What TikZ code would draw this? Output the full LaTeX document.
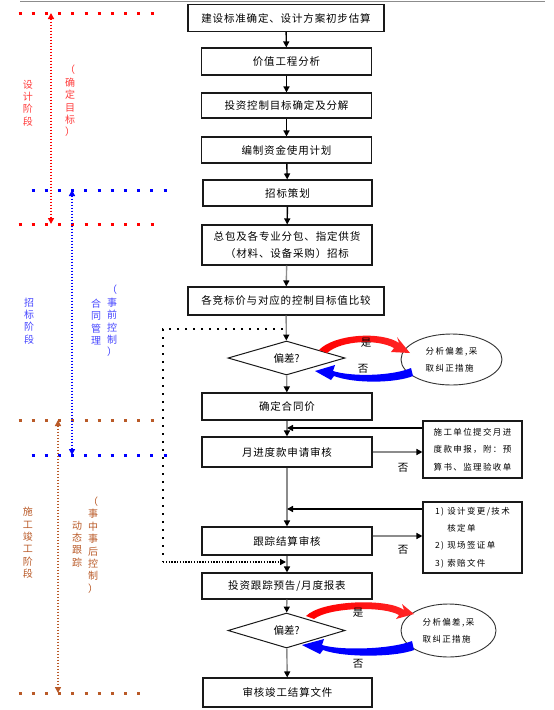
\documentclass[tikz,border=0pt]{standalone}
\usepackage{fontspec}
\usepackage{xcolor}
\setmainfont{Noto Sans CJK SC}
\newfontfamily\boxfont[LetterSpace=8]{Noto Sans CJK SC}
\newfontfamily\notefont[LetterSpace=16]{Noto Sans CJK SC}
\usetikzlibrary{arrows.meta,shapes.geometric}

\definecolor{designred}{RGB}{255,60,60}
\definecolor{tenderblue}{RGB}{70,70,255}
\definecolor{buildbrown}{RGB}{185,90,40}

\tikzset{
  stagebox/.style={draw=black!90, line width=1.1pt, minimum width=170pt, minimum height=27pt,
    inner sep=0pt, align=center, font=\boxfont\fontsize{10.5}{17}\selectfont},
  judge/.style={draw=black!90, line width=1pt, shape=diamond, aspect=3.4, minimum width=117pt,
    minimum height=34pt, inner sep=0pt, font=\fontsize{10.5}{13}\selectfont},
  notebox/.style={draw=black!90, line width=1.1pt, minimum width=99pt, inner sep=0pt, align=left,
    font=\notefont\fontsize{8.5}{17.3}\selectfont},
  remedy/.style={draw=black!80, line width=0.9pt, shape=ellipse, minimum width=101pt, minimum height=51pt,
    inner sep=0pt, align=left, font=\notefont\fontsize{8.5}{17}\selectfont},
  flow/.style={black, line width=1.4pt, -{Triangle[length=6pt,width=6pt]}},
  flowgray/.style={black!45, line width=1.4pt, -{Triangle[length=6pt,width=6pt,color=black]}},
  stagedots/.style={line width=3pt, dash pattern=on 3pt off 10.2pt},
  spanline/.style={line width=1.5pt, dash pattern=on 1.5pt off 1.5pt,
    {Triangle[length=6pt,width=6pt]}-{Triangle[length=6pt,width=6pt]}},
  sidetext/.style={align=center, inner sep=0pt, font=\fontsize{10}{12.4}\selectfont},
  answer/.style={inner sep=0pt, font=\fontsize{10.5}{13}\selectfont}
}

\begin{document}
\begin{tikzpicture}[x=1pt,y=-1pt]
  \useasboundingbox (0,0) rectangle (554,710);
  \draw[black!45, line width=0.8pt] (20,1) -- (545,1);

  % main column
  \node[stagebox, minimum width=196pt] (build) at (286,18) {建设标准确定、设计方案初步估算};
  \node[stagebox] (value) at (286.5,61.5) {价值工程分析};
  \node[stagebox, minimum height=25pt] (split) at (286.5,105.5) {投资控制目标确定及分解};
  \node[stagebox, minimum height=26pt] (fund) at (286.5,150) {编制资金使用计划};
  \node[stagebox, minimum width=169pt, minimum height=26pt] (plan) at (287.5,193) {招标策划};
  \node[stagebox, minimum height=40pt] (bid) at (287,245) {总包及各专业分包、指定供货\\（材料、设备采购）招标};
  \node[stagebox, minimum width=196pt, minimum height=28pt] (compare) at (286,301) {各竞标价与对应的控制目标值比较};
  \node[judge] (dev1) at (286.5,358) {偏差?};
  \node[stagebox] (price) at (287,406.5) {确定合同价};
  \node[stagebox, minimum height=30pt] (month) at (287,452) {月进度款申请审核};
  \node[stagebox, minimum height=28pt] (track) at (287,541) {跟踪结算审核};
  \node[stagebox, minimum height=26pt] (report) at (287,586) {投资跟踪预告/月度报表};
  \node[judge, minimum height=35pt] (dev2) at (286.5,630.5) {偏差?};
  \node[stagebox, minimum width=169pt, minimum height=29pt] (final) at (287.5,692.5) {审核竣工结算文件};

  % side notes
  \node[notebox, minimum height=57pt] (apply) at (472.5,449.5) {施工单位提交月进\\度款申报，附：预\\算书、监理验收单};
  \node[notebox, minimum height=71pt] (docs) at (472.5,537.5) {1) 设计变更/技术\\\phantom{1) }核定单\\2) 现场签证单\\3) 索赔文件};
  \node[remedy] (fix1) at (451.5,359.5) {分析偏差,采\\取纠正措施};
  \node[remedy, minimum width=95pt, minimum height=53pt] (fix2) at (448.5,630.5) {分析偏差,采\\取纠正措施};

  % flow
  \draw[flow] (build) -- (value);
  \draw[flow] (value) -- (split);
  \draw[flow] (split) -- (fund);
  \draw[flow] (fund) -- (plan);
  \draw[flow] (plan) -- (bid);
  \draw[flowgray] (bid) -- (compare);
  \draw[flowgray] (compare) -- (dev1);
  \draw[flowgray] (dev1) -- (price);
  \draw[flowgray] (price) -- (month);
  \draw[flowgray] (month) -- (track);
  \draw[flowgray] (track) -- (report);
  \draw[flowgray] (report) -- (dev2);
  \draw[flowgray] (dev2) -- (final);

  \coordinate (in1) at (287,428);
  \coordinate (in2) at (287,509);
  \draw[flow] (apply.west |- in1) -- (in1);
  \draw[flow] (docs.west |- in2) -- (in2);
  \draw[flowgray] (month.east) -- (month.east -| apply.west);
  \draw[flowgray] ([yshift=5pt]track.east) coordinate (t0) -- (t0 -| docs.west);
  \node[answer] (no3) at (403,468) {否};
  \node[answer] (no4) at (403,550) {否};

  % deviation loops
  \shade[left color=red, middle color=red!8, right color=red!85]
    (319,350) .. controls (334,334) and (382,331) .. (399,343) -- (397,337) -- (410,353)
    -- (391,352) -- (394,348) .. controls (378,339) and (342,340) .. (327,353) -- cycle;
  \shade[left color=blue, middle color=blue!8, right color=blue]
    (411,368) .. controls (392,376) and (352,377) .. (333,371) -- (335,365) -- (315,371)
    -- (331,380) -- (334,376) .. controls (355,384) and (396,383) .. (413,376) -- cycle;
  \shade[left color=red, middle color=red!8, right color=red!85]
    (306,616) .. controls (322,600) and (388,598) .. (404,610) -- (402,604) -- (414,614)
    -- (396,619) -- (399,615) .. controls (384,606) and (330,607) .. (314,619) -- cycle;
  \shade[left color=blue, middle color=blue!8, right color=blue]
    (412,641) .. controls (392,649) and (342,651) .. (322,645) -- (324,639) -- (302,645)
    -- (320,654) -- (323,650) .. controls (345,658) and (396,657) .. (414,650) -- cycle;
  \node[answer] (yes1) at (366,343) {是};
  \node[answer] (no1) at (363,369) {否};
  \node[answer] (yes2) at (358,613) {是};
  \node[answer] (no2) at (358,664) {否};

  % dotted feedback
  \coordinate (fb1) at (283,329);
  \coordinate (fb2) at (163,329);
  \coordinate (fb3) at (163,562);
  \coordinate (fb4) at (286,562);
  \draw[line width=1.8pt, dash pattern=on 1.8pt off 6.2pt] (fb1) -- (fb2) -- (fb3);
  \draw[line width=1.4pt, dash pattern=on 1.4pt off 1.4pt, -{Triangle[length=6pt,width=6pt]}] (fb3) -- (fb4);

  % stages
  \draw[stagedots, red] (18.5,13) -- (154,13);
  \draw[stagedots, red] (18.5,224) -- (154,224);
  \draw[stagedots, blue] (31.5,190) -- (167,190);
  \draw[stagedots, blue] (31.5,455) -- (167,455);
  \draw[stagedots, buildbrown] (18.5,420) -- (154,420);
  \draw[stagedots, buildbrown] (18.5,693) -- (141,693);
  \coordinate (r0) at (51,13);
  \coordinate (r1) at (51,224);
  \coordinate (b0) at (72,190);
  \coordinate (b1) at (72,455);
  \coordinate (n0) at (58,420);
  \coordinate (n1) at (58,693);
  \draw[spanline, red] (r0) -- (r1);
  \draw[spanline, blue] (b0) -- (b1);
  \draw[spanline, buildbrown] (n0) -- (n1);

  \node[sidetext, designred] (designstage) at (28,103) {设\\计\\阶\\段};
  \node[sidetext, designred] (designgoal) at (70,101) {（\\确\\定\\目\\标\\）};
  \node[sidetext, tenderblue] (tenderstage) at (29,321) {招\\标\\阶\\段};
  \node[sidetext, tenderblue] (contract) at (96,322) {合\\同\\管\\理};
  \node[sidetext, tenderblue] (before) at (112,321) {（\\事\\前\\控\\制\\）};
  \node[sidetext, buildbrown] (buildstage) at (28,543) {施\\工\\竣\\工\\阶\\段};
  \node[sidetext, buildbrown] (dynamic) at (77,544) {动\\态\\跟\\踪};
  \node[sidetext, buildbrown] (after) at (93,545) {（\\事\\中\\事\\后\\控\\制\\）};
\end{tikzpicture}
\end{document}
